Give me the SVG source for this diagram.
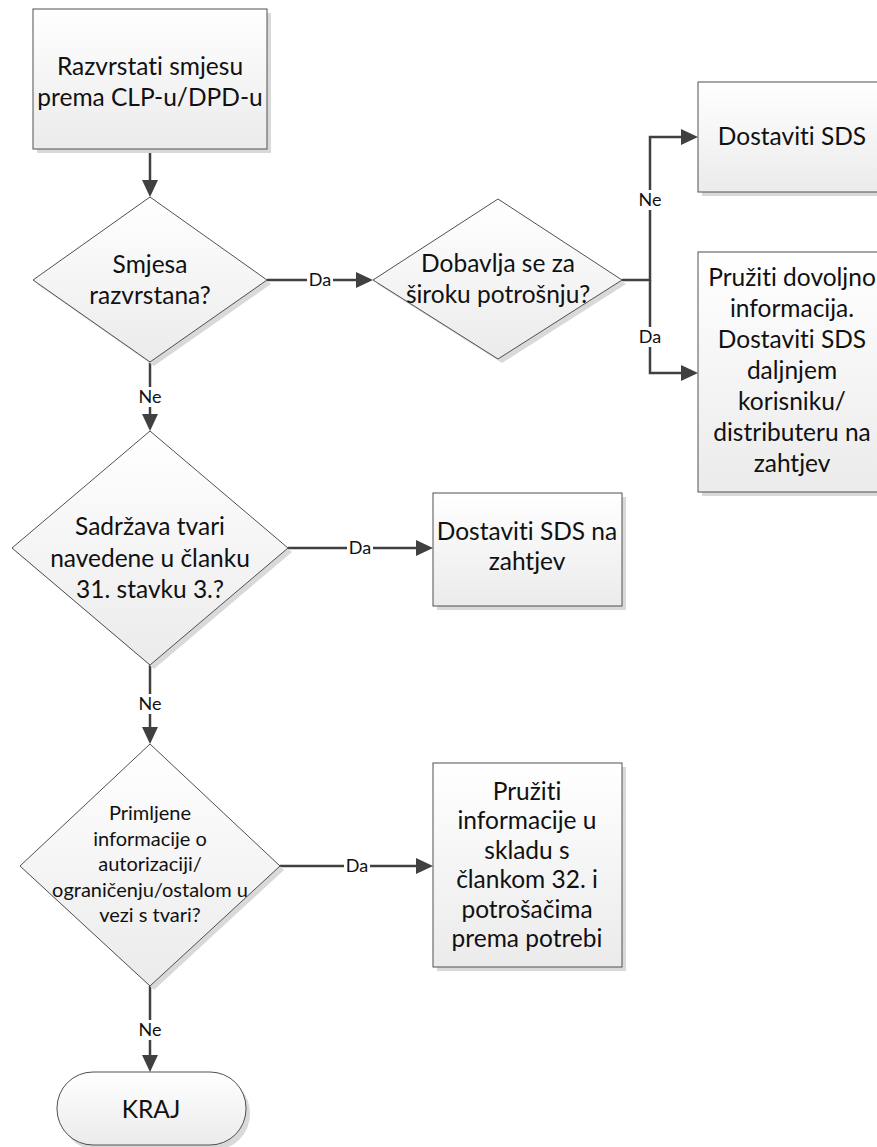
<svg xmlns="http://www.w3.org/2000/svg" width="877" height="1147" viewBox="0 0 877 1147">
  <defs>
    <linearGradient id="fillGrad" x1="0" y1="0" x2="0" y2="1">
      <stop offset="0" stop-color="#ffffff"/>
      <stop offset="1" stop-color="#ebebeb"/>
    </linearGradient>
    <marker id="arrow" viewBox="0 0 17 16" refX="1" refY="8" markerWidth="17" markerHeight="16" markerUnits="userSpaceOnUse" orient="auto">
      <path d="M0,0 L17,8 L0,16 z" fill="#404040"/>
    </marker>
    <style>
      .shape { fill: url(#fillGrad); stroke: #505050; stroke-width: 1; }
      .shadow { fill: #d9d9d9; stroke: none; }
      .txt { font-family: Lato, "Open Sans", "Liberation Sans", sans-serif; font-size: 24.5px; fill: #111; text-anchor: middle; font-variant-ligatures: none; }
      .small { font-size: 20px; }
      .conn { fill: none; stroke: #404040; stroke-width: 2.5; marker-end: url(#arrow); }
      .lblbg { fill: #ffffff; }
      .lbl { font-family: Lato, "Open Sans", "Liberation Sans", sans-serif; font-size: 18px; fill: #111; text-anchor: middle; }
    </style>
  </defs>
  <rect width="877" height="1147" fill="#ffffff"/>

  <!-- connectors -->
  <g id="connectors">
    <path class="conn" d="M150,149 V181"/>
    <path class="conn" d="M267,280 H357"/>
    <path class="conn" d="M150,362 V415"/>
    <path class="conn" d="M622,280 H650 V137 H682"/>
    <path class="conn" d="M650,280 V373 H682"/>
    <path class="conn" d="M288,548 H417"/>
    <path class="conn" d="M150,665 V728"/>
    <path class="conn" d="M280,866 H417"/>
    <path class="conn" d="M150,986 V1056"/>
    <!-- branch labels -->
    <rect class="lblbg" x="307" y="270" width="26" height="20"/>
    <text class="lbl" x="320" y="286">Da</text>
    <rect class="lblbg" x="137" y="387" width="26" height="20"/>
    <text class="lbl" x="150" y="403">Ne</text>
    <rect class="lblbg" x="637" y="190" width="26" height="20"/>
    <text class="lbl" x="650" y="206">Ne</text>
    <rect class="lblbg" x="637" y="327" width="26" height="20"/>
    <text class="lbl" x="650" y="343">Da</text>
    <rect class="lblbg" x="347" y="538" width="26" height="20"/>
    <text class="lbl" x="360" y="554">Da</text>
    <rect class="lblbg" x="137" y="694" width="26" height="20"/>
    <text class="lbl" x="150" y="710">Ne</text>
    <rect class="lblbg" x="344" y="856" width="26" height="20"/>
    <text class="lbl" x="357" y="872">Da</text>
    <rect class="lblbg" x="137" y="1020" width="26" height="20"/>
    <text class="lbl" x="150" y="1036">Ne</text>
  </g>

  <!-- start: classify mixture -->
  <g id="n-razvrstati">
    <rect class="shadow" x="37" y="13" width="234" height="140"/>
    <rect class="shape" x="33" y="9" width="234" height="140"/>
    <text class="txt" x="150" y="75">Razvrstati smjesu</text>
    <text class="txt" x="150" y="106">prema CLP-u/DPD-u</text>
  </g>

  <g id="n-razvrstana">
    <polygon class="shadow" points="154,201 271,284 154,366 37,284"/>
    <polygon class="shape" points="150,197 267,280 150,362 33,280"/>
    <text class="txt" x="150" y="273">Smjesa</text>
    <text class="txt" x="150" y="304">razvrstana?</text>
  </g>

  <g id="n-siroka-potrosnja">
    <polygon class="shadow" points="502,203 626,284 502,363 377,284"/>
    <polygon class="shape" points="498,199 622,280 498,359 373,280"/>
    <text class="txt" x="498" y="272">Dobavlja se za</text>
    <text class="txt" x="498" y="303">široku potrošnju?</text>
  </g>

  <g id="n-dostaviti-sds">
    <rect class="shadow" x="702" y="86" width="188" height="110"/>
    <rect class="shape" x="698" y="82" width="188" height="110"/>
    <text class="txt" x="792" y="145">Dostaviti SDS</text>
  </g>

  <g id="n-pruziti-dovoljno">
    <rect class="shadow" x="702" y="256" width="188" height="240"/>
    <rect class="shape" x="698" y="252" width="188" height="240"/>
    <text class="txt" x="792" y="286">Pružiti dovoljno</text>
    <text class="txt" x="792" y="317">informacija.</text>
    <text class="txt" x="792" y="348">Dostaviti SDS</text>
    <text class="txt" x="792" y="379">daljnjem</text>
    <text class="txt" x="792" y="410">korisniku/</text>
    <text class="txt" x="792" y="441">distributeru na</text>
    <text class="txt" x="792" y="472">zahtjev</text>
  </g>

  <g id="n-clanak-31">
    <polygon class="shadow" points="154,435 292,552 154,669 16,552"/>
    <polygon class="shape" points="150,431 288,548 150,665 12,548"/>
    <text class="txt" x="150" y="535">Sadržava tvari</text>
    <text class="txt" x="150" y="567">navedene u članku</text>
    <text class="txt" x="150" y="598">31. stavku 3.?</text>
  </g>

  <g id="n-sds-na-zahtjev">
    <rect class="shadow" x="437" y="497" width="189" height="113"/>
    <rect class="shape" x="433" y="493" width="189" height="113"/>
    <text class="txt" x="527" y="540">Dostaviti SDS na</text>
    <text class="txt" x="527" y="570">zahtjev</text>
  </g>

  <g id="n-autorizacija">
    <polygon class="shadow" points="154,748 284,870 154,990 24,870"/>
    <polygon class="shape" points="150,744 280,866 150,986 20,866"/>
    <text class="txt small" x="150" y="820">Primljene</text>
    <text class="txt small" x="150" y="846">informacije o</text>
    <text class="txt small" x="150" y="871">autorizaciji/</text>
    <text class="txt small" x="150" y="897">ograničenju/ostalom u</text>
    <text class="txt small" x="150" y="922">vezi s tvari?</text>
  </g>

  <g id="n-clanak-32">
    <rect class="shadow" x="437" y="767" width="189" height="204"/>
    <rect class="shape" x="433" y="763" width="189" height="204"/>
    <text class="txt" x="527" y="800">Pružiti</text>
    <text class="txt" x="527" y="829">informacije u</text>
    <text class="txt" x="527" y="859">skladu s</text>
    <text class="txt" x="527" y="888">člankom 32. i</text>
    <text class="txt" x="527" y="918">potrošačima</text>
    <text class="txt" x="527" y="947">prema potrebi</text>
  </g>

  <g id="n-kraj">
    <rect class="shadow" x="61" y="1077" width="189" height="73" rx="36" ry="36"/>
    <rect class="shape" x="57" y="1072" width="189" height="73" rx="36" ry="36"/>
    <text class="txt" x="151" y="1118">KRAJ</text>
  </g>
</svg>
